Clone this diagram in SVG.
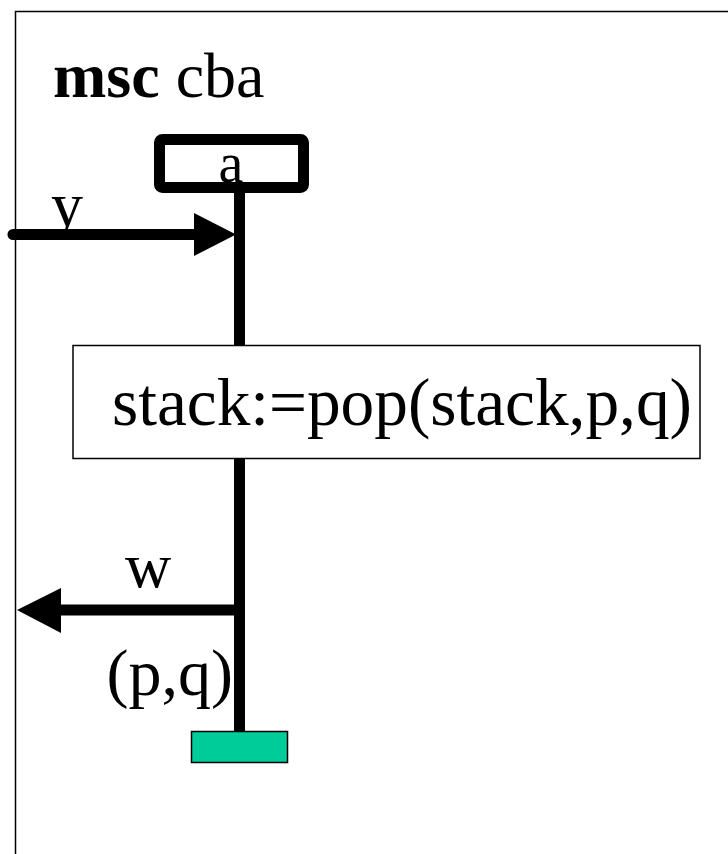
<svg xmlns="http://www.w3.org/2000/svg" width="728" height="854" viewBox="0 0 728 854">
<style>
.t{font-family:"Liberation Serif","Times New Roman",serif;fill:#000}
.thick{stroke:#000;stroke-width:11;fill:none}
</style>
<rect width="728" height="854" fill="#fff"/>
<g id="frame">
<path d="M15.5 854 V11.5 H728" fill="none" stroke="#000" stroke-width="1.5"/>
<text class="t" x="53" y="97" font-size="64"><tspan font-weight="bold">msc</tspan> cba</text>
</g>
<g id="instance-a">
<rect x="159.5" y="139.5" width="144" height="48" rx="3" fill="#fff" stroke="#000" stroke-width="11"/>
<text class="t" x="231" y="182" font-size="56" text-anchor="middle">a</text>
</g>
<g id="connectors">
<line x1="239.5" y1="192" x2="239.5" y2="732" class="thick"/>
<line x1="13" y1="234.5" x2="200" y2="234.5" class="thick" stroke-linecap="round"/>
<polygon points="194,213 236,234.5 194,256" fill="#000"/>
<line x1="239.5" y1="610" x2="55" y2="610" class="thick"/>
<polygon points="61,588 17,610 61,633" fill="#000"/>
</g>
<g id="label-y"><text class="t" x="67" y="226" font-size="64" text-anchor="middle">y</text></g>
<g id="label-w"><text class="t" x="148" y="587" font-size="64" text-anchor="middle">w</text></g>
<g id="label-pq"><text class="t" x="233" y="695" font-size="66" text-anchor="end">(p,q)</text></g>
<g id="action">
<rect x="73" y="345.5" width="627" height="113" fill="#fff" stroke="#000" stroke-width="1.5"/>
<text class="t" x="112" y="425" font-size="67" textLength="580" lengthAdjust="spacingAndGlyphs">stack:=pop(stack,p,q)</text>
</g>
<g id="stop">
<rect x="191.5" y="731.5" width="96" height="31" fill="#00CC99" stroke="#000" stroke-width="1.5"/>
</g>
</svg>
